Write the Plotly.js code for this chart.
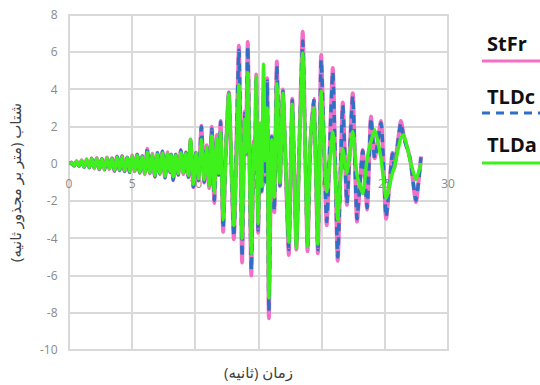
<!DOCTYPE html>
<html>
<head>
<meta charset="utf-8">
<script src="https://cdn.plot.ly/plotly-3.0.1.min.js"></script>
<style>html,body{margin:0;padding:0;background:#fff;}#chart{width:540px;height:385px;}</style>
</head>
<body>
<div id="chart"></div>
<script>
// time (s)
const time = [0,0.2,0.4,0.6,0.8,1.0,1.2,1.4,1.6,1.8,2.0,2.2,2.4,2.6,2.8,3.0,3.2,3.4,3.6,3.8,4.0,4.2,4.4,4.6,4.8,5.0,5.2,5.4,5.6,5.8,6.0,6.2,6.4,6.6,6.8,7.0,7.2,7.4,7.6,7.8,8.0,8.1,8.25,8.45,8.65,8.85,9.05,9.25,9.45,9.62,9.85,10.05,10.25,10.48,10.7,10.9,11.1,11.3,11.5,11.7,11.85,12.0,12.2,12.42,12.65,13.05,13.45,13.7,13.9,14.0,14.15,14.43,14.62,14.7,14.82,14.97,15.15,15.25,15.4,15.55,15.69,15.82,16.05,16.25,16.45,16.7,16.93,17.4,17.67,18.0,18.25,18.5,18.88,19.1,19.38,19.7,19.96,20.4,20.88,21.27,21.67,22.0,22.46,22.8,23.25,23.6,23.9,24.2,24.7,25.1,25.6,25.75,26.27,26.5,27.0,27.46,27.86];
const stfr = [0,0.08,-0.10,0.15,-0.12,0.20,-0.18,0.25,-0.20,0.30,-0.25,0.32,-0.30,0.28,-0.32,0.35,-0.28,0.30,-0.38,0.40,-0.35,0.42,-0.40,0.35,-0.45,0.45,-0.40,0.50,-0.48,0.42,-0.55,0.82,-0.50,0.55,-0.70,0.60,-0.55,0.68,-0.75,0.62,-0.45,0.50,-0.88,0.50,-0.60,0.75,-0.55,0.62,-0.72,1.30,-1.25,0.60,-0.90,2.05,-1.00,1.00,-1.30,2.00,-2.10,1.55,-0.60,2.30,-3.65,0.80,3.85,-4.05,6.35,-5.30,2.80,0.50,6.55,-6.00,1.20,-0.50,4.80,-3.70,2.00,-1.50,3.80,-1.00,4.60,-8.30,1.50,-2.60,5.50,-1.20,4.00,-4.90,3.50,-4.60,1.50,7.10,-4.70,1.00,3.50,-4.80,5.85,-3.30,5.15,-5.20,3.30,-2.20,3.80,-3.10,0.75,-2.45,2.55,0.30,2.30,-2.95,0.60,-0.20,2.30,1.50,0.30,-2.05,0.40];
const tldc = [0,0.07,-0.10,0.14,-0.12,0.19,-0.17,0.24,-0.20,0.29,-0.25,0.31,-0.29,0.28,-0.31,0.34,-0.28,0.29,-0.37,0.39,-0.34,0.41,-0.39,0.34,-0.44,0.44,-0.40,0.49,-0.47,0.41,-0.54,0.80,-0.49,0.54,-0.68,0.59,-0.54,0.66,-0.73,0.61,-0.44,0.48,-0.86,0.49,-0.58,0.73,-0.54,0.60,-0.70,1.28,-1.22,0.58,-0.88,2.00,-0.97,0.98,-1.26,1.88,-1.95,1.50,-0.58,2.25,-3.45,0.78,3.80,-3.90,6.10,-5.00,2.70,0.50,6.30,-5.70,1.15,-0.48,4.60,-3.55,1.95,-1.45,3.70,-0.95,4.45,-7.90,1.45,-2.50,5.25,-1.15,3.90,-4.60,3.40,-4.40,1.40,6.60,-4.50,0.95,3.40,-4.60,5.60,-3.10,4.95,-5.00,3.15,-2.10,3.65,-2.95,0.70,-2.35,2.45,0.30,2.20,-2.85,0.55,-0.20,2.20,1.40,0.25,-1.95,0.35];
const tlda = [0,0.06,-0.09,0.13,-0.11,0.18,-0.16,0.22,-0.18,0.27,-0.23,0.29,-0.27,0.26,-0.29,0.32,-0.26,0.28,-0.34,0.36,-0.32,0.38,-0.36,0.33,-0.41,0.41,-0.37,0.45,-0.44,0.39,-0.50,0.62,-0.46,0.50,-0.62,0.52,-0.50,0.58,-0.66,0.55,-0.40,0.45,-0.70,0.45,-0.52,0.60,-0.48,0.55,-0.62,1.33,-1.10,0.55,-0.80,1.30,-0.85,0.90,-1.15,1.50,-1.50,1.35,-0.50,1.70,-3.00,0.70,3.75,-3.30,4.25,-4.00,2.40,0.60,4.90,-4.80,1.00,-0.30,4.70,-3.20,2.20,-1.20,5.35,0.20,3.00,-7.20,1.30,-1.80,4.30,-1.00,3.80,-4.20,3.20,-4.50,1.20,5.95,-4.40,1.20,3.00,-4.30,3.90,-1.50,1.70,-3.00,0.80,-0.50,1.74,-0.60,-1.60,0.30,1.20,1.83,0.30,-1.85,-0.50,-0.20,1.40,1.56,0.20,-0.85,0.04];

const seriesNames = ['StFr','TLDc','TLDa'];
const xTicks = [0,5,10,15,20,25,30];
const yTicks = [-10,-8,-6,-4,-2,0,2,4,6,8];

const colors = ['#f36fc6','#2f6fc4','#3ef01c'];
const grid = '#d9d9d9';
const tickCol = '#8a8a8a';
const font = 'Open Sans, DejaVu Sans, sans-serif';

const traces = [
  {x: time, y: stfr, name: seriesNames[0], mode: 'lines', line: {color: colors[0], width: 4, shape: 'spline', smoothing: 0.5}},
  {x: time, y: tldc, name: seriesNames[1], mode: 'lines', line: {color: colors[1], width: 3.5, dash: '8px,6px', shape: 'spline', smoothing: 0.5}},
  {x: time, y: tlda, name: seriesNames[2], mode: 'lines', line: {color: colors[2], width: 3.5, shape: 'spline', smoothing: 0.5}}
];

const legY = [0.8627, 0.7075, 0.5582];
const legTextY = [0.9164, 0.7582, 0.6149];
const annotations = seriesNames.map((n, i) => ({
  xref: 'paper', yref: 'paper', x: 1.0976, y: legTextY[i], xanchor: 'left', yanchor: 'middle',
  text: '<b>' + n + '</b>', showarrow: false, font: {family: font, size: 20, color: '#111'}
}));
annotations.push({xref: 'paper', yref: 'paper', x: 0.5, y: -0.066, xanchor: 'center', yanchor: 'middle',
  text: 'زمان (ثانیه)', showarrow: false, font: {family: font, size: 15, color: '#404040'}});
const shapes = seriesNames.map((n, i) => ({
  type: 'line', xref: 'paper', yref: 'paper', x0: 1.0897, x1: 1.25, y0: legY[i], y1: legY[i],
  line: {color: colors[i], width: 3, dash: i === 1 ? '8px,6px' : 'solid'}
}));
shapes.push({type: 'rect', xref: 'paper', yref: 'paper', x0: 0, x1: 1, y0: 0, y1: 1,
  line: {color: grid, width: 2}, layer: 'below'});

const layout = {
  width: 540, height: 385,
  margin: {l: 69, r: 92, t: 15, b: 35},
  paper_bgcolor: '#fff', plot_bgcolor: '#fff',
  showlegend: false,
  font: {family: font},
  xaxis: {
    range: [0, 30], tickvals: xTicks, ticktext: xTicks.map(String),
    showgrid: true, gridcolor: grid, gridwidth: 2,
    zeroline: false, showline: false,
    anchor: 'free', position: 10/18,
    ticks: 'outside', ticklen: 9, tickcolor: 'rgba(0,0,0,0)',
    tickfont: {family: font, size: 12, color: tickCol},
    layer: 'below traces', fixedrange: true
  },
  yaxis: {
    range: [-10, 8], tickvals: yTicks, ticktext: yTicks.map(String),
    showgrid: true, gridcolor: grid, gridwidth: 2,
    zeroline: true, zerolinecolor: grid, zerolinewidth: 2,
    showline: false,
    ticks: 'outside', ticklen: 8, tickcolor: 'rgba(0,0,0,0)',
    tickfont: {family: font, size: 12, color: tickCol},
    title: {text: 'شتاب (متر بر مجذور ثانیه)', font: {family: font, size: 15, color: '#404040'}, standoff: 14},
    layer: 'below traces', fixedrange: true
  },
  annotations: annotations,
  shapes: shapes
};

Plotly.newPlot('chart', traces, layout, {displayModeBar: false, staticPlot: true});
</script>
</body>
</html>
